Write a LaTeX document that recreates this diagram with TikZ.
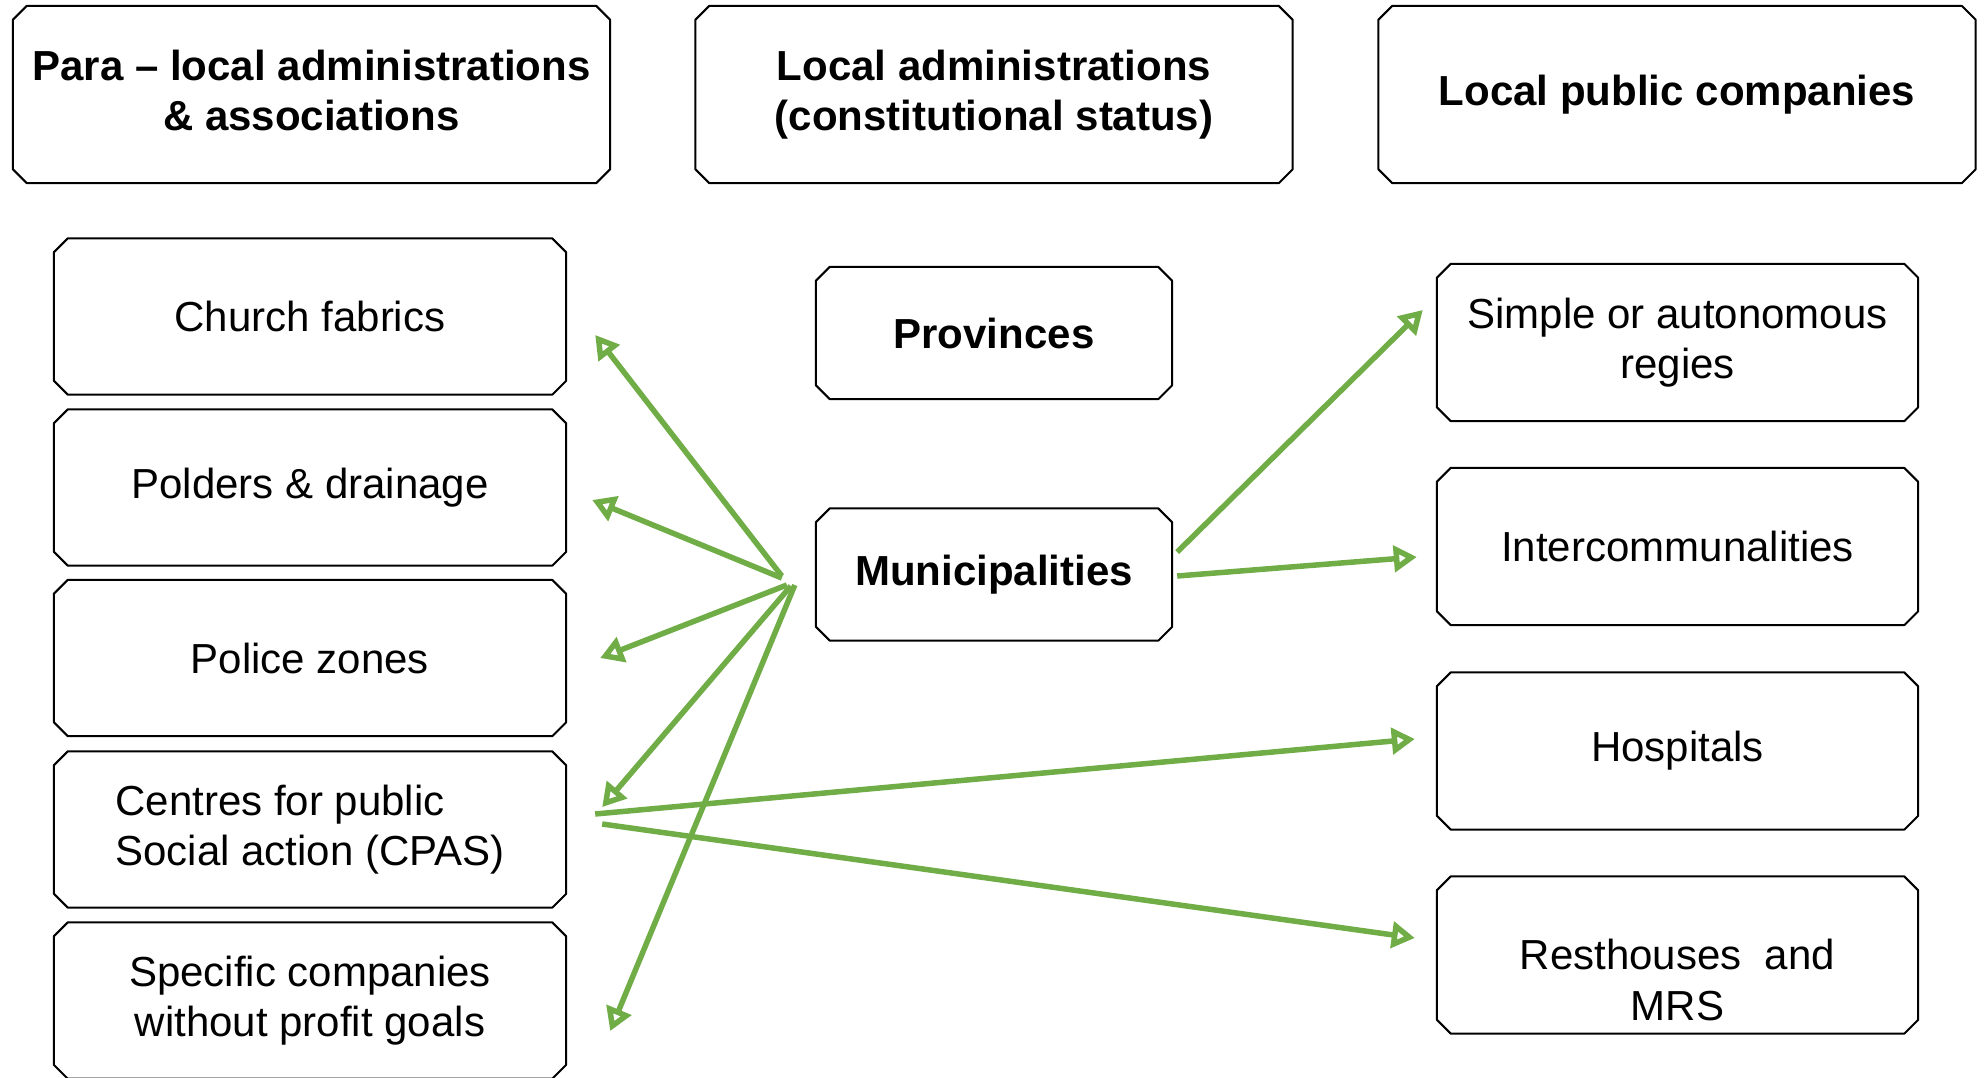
\documentclass[tikz,border=0pt]{standalone}
\usepackage{fontspec}
\setmainfont{Liberation Sans}
\usetikzlibrary{arrows.meta,calc}
\definecolor{arrgreen}{HTML}{70AD47}
\newcommand\chamf[1]{\draw[boxline] ($(#1.north west)+(14,0)$) -- ($(#1.north east)+(-14,0)$) -- ($(#1.north east)+(0,14)$) -- ($(#1.south east)+(0,-14)$) -- ($(#1.south east)+(-14,0)$) -- ($(#1.south west)+(14,0)$) -- ($(#1.south west)+(0,-14)$) -- ($(#1.north west)+(0,14)$) -- cycle;}
\begin{document}
\begin{tikzpicture}[x=1pt,y=-1pt,
  box/.style={rectangle, inner sep=0pt, align=center, font=\fontsize{42}{50.6}\selectfont},
  hdr/.style={box, minimum width=597pt, minimum height=177pt, font=\fontsize{42}{50.6}\selectfont\bfseries},
  lbox/.style={box, minimum width=512pt, minimum height=156pt},
  mbox/.style={box, minimum width=356pt, minimum height=132pt, font=\fontsize{42}{50.6}\selectfont\bfseries},
  rbox/.style={box, minimum width=481pt, minimum height=157pt},
  boxline/.style={draw=black, line width=2pt, line join=round},
  arr/.style={draw=arrgreen, line width=5.5pt, -{Triangle[open, length=23pt, width=26pt, line width=5.5pt]}}
]
\useasboundingbox (0,0) rectangle (1984,1077);
% headers
\node[hdr, label={[box, font=\fontsize{42}{50.6}\selectfont\bfseries, yshift=4pt]center:{Para -- local administrations\\\& associations}}] (A) at (311.5,94.5) {};
\node[hdr] (B) at (994,94.5) {Local administrations\\(constitutional status)};
\node[hdr] (C) at (1677,94.5) {Local public companies};
% left column
\node[lbox] (church) at (310,316.5) {Church fabrics};
\node[lbox] (polders) at (310,487.5) {Polders \& drainage};
\node[lbox] (police) at (310,658) {Police zones};
\node[lbox, align=left] (cpas) at (310,829.5) {Centres for public\\Social action (CPAS)};
\node[lbox] (spec) at (310,1000.5) {Specific companies\\without profit goals};
% middle column
\node[mbox] (prov) at (994,333) {Provinces};
\node[mbox] (muni) at (994,574.5) {Municipalities};
% right column
\node[rbox] (regie) at (1677.5,342.5) {Simple or autonomous\\regies};
\node[rbox] (inter) at (1677.5,546.5) {Intercommunalities};
\node[rbox] (hosp) at (1677.5,751) {Hospitals};
\node[rbox, label={[box, yshift=-25pt]center:{Resthouses\ \ and\\MRS}}] (rest) at (1677.5,955) {};
\foreach \n in {A,B,C,church,polders,police,cpas,spec,prov,muni,regie,inter,hosp,rest}{\chamf{\n}}
% arrows from municipalities to the left
\draw[arr] ($(muni.west)+(-34,1.5)$) -- ($(church.east)+(29,18.5)$);
\draw[arr] ($(muni.west)+(-34,3.5)$) -- ($(polders.east)+(26,12.5)$);
\draw[arr] ($(muni.west)+(-29,10.5)$) -- ($(police.east)+(34,0)$);
\draw[arr] ($(muni.west)+(-25,11.5)$) -- ($(cpas.east)+(36,-22.5)$);
\draw[arr] ($(muni.west)+(-21,10.5)$) -- ($(spec.east)+(44,30.5)$);
% arrows from municipalities to the right
\draw[arr] ($(muni.east)+(5,-22.5)$) -- ($(regie.west)+(-14,-32.5)$);
\draw[arr] ($(muni.east)+(5,1.5)$) -- ($(inter.west)+(-20,10.5)$);
% arrows from CPAS
\draw[arr] ($(cpas.east)+(29,-15.5)$) -- ($(hosp.west)+(-22,-12)$);
\draw[arr] ($(cpas.east)+(36,-5.5)$) -- ($(rest.west)+(-22,-17)$);
\end{tikzpicture}
\end{document}
